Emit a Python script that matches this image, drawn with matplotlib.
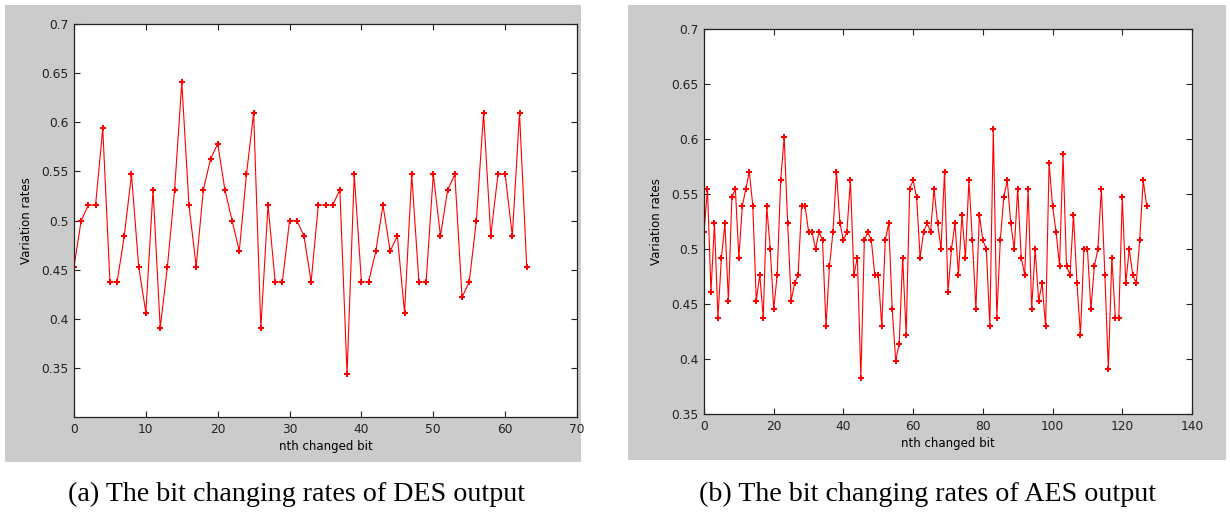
import numpy as np
import matplotlib
matplotlib.use("Agg")
import matplotlib.pyplot as plt
from matplotlib.patches import Rectangle

# number of changed output bits per flipped input bit
des_changed = [29, 32, 33, 33, 38, 28, 28, 31, 35, 29,
               26, 34, 25, 29, 34, 41, 33, 29, 34, 36,
               37, 34, 32, 30, 35, 39, 25, 33, 28, 28,
               32, 32, 31, 28, 33, 33, 33, 34, 22, 35,
               28, 28, 30, 33, 30, 31, 26, 35, 28, 28,
               35, 31, 34, 35, 27, 28, 32, 39, 31, 35,
               35, 31, 39, 29]
aes_changed = [66, 71, 59, 67, 56, 63, 67, 58, 70, 71,
               63, 69, 71, 73, 69, 58, 61, 56, 69, 64,
               57, 61, 72, 77, 67, 58, 60, 61, 69, 69,
               66, 66, 64, 66, 65, 55, 62, 66, 73, 67,
               65, 66, 72, 61, 63, 49, 65, 66, 65, 61,
               61, 55, 65, 67, 57, 51, 53, 63, 54, 71,
               72, 70, 63, 66, 67, 66, 71, 67, 64, 73,
               59, 64, 67, 61, 68, 63, 72, 65, 57, 68,
               65, 64, 55, 78, 56, 65, 70, 72, 67, 64,
               71, 63, 61, 71, 57, 64, 58, 60, 55, 74,
               69, 66, 62, 75, 62, 61, 68, 60, 54, 64,
               64, 57, 62, 64, 71, 61, 50, 63, 56, 56,
               70, 60, 64, 61, 60, 65, 72, 69]
des_bits = 64
aes_bits = 128

captions = ["(a) The bit changing rates of DES output",
            "(b) The bit changing rates of AES output"]
xlabel = "nth changed bit"
ylabel = "Variation rates"

W, H = 1230, 516
fig = plt.figure(figsize=(W / 100, H / 100), dpi=100)
fig.patch.set_facecolor("white")

def px_rect(x0, y0, x1, y1):
    # pixel box (top-left origin) -> figure fraction [l, b, w, h]
    return [x0 / W, 1 - y1 / H, (x1 - x0) / W, (y1 - y0) / H]

grey = "#cbcbcb"
for (x0, y0, x1, y1) in [(5, 5, 581, 462), (628, 5, 1226, 460)]:
    l, b, w, h = px_rect(x0, y0, x1, y1)
    fig.patches.append(Rectangle((l, b), w, h, transform=fig.transFigure,
                                 facecolor=grey, edgecolor="none", zorder=-10))

def panel(rect, values, nbits, xlim, xticks, ylim, yticks):
    ax = fig.add_axes(px_rect(*rect))
    ax.set_zorder(5)
    y = np.array(values) / nbits
    ax.plot(np.arange(len(y)), y, color="red", lw=0.8, marker="P",
            markersize=4, markeredgewidth=0)
    ax.set_xlim(*xlim)
    ax.set_ylim(*ylim)
    ax.set_xticks(xticks)
    ax.set_yticks(yticks)
    ax.set_yticklabels([("%g" % t) for t in yticks])
    ax.tick_params(direction="in", length=4, width=0.8, top=True, right=True,
                   labelsize=8.8, colors="#222222", pad=4)
    for s in ax.spines.values():
        s.set_linewidth(0.9)
        s.set_color("#222222")
    ax.set_xlabel(xlabel, fontsize=8.5, labelpad=3)
    ax.set_ylabel(ylabel, fontsize=8.5, labelpad=6)
    return ax

panel((74, 24, 577, 417), des_changed, des_bits, (0, 70), range(0, 71, 10),
      (0.3, 0.7), [0.35, 0.4, 0.45, 0.5, 0.55, 0.6, 0.65, 0.7])
panel((704, 29, 1192, 414), aes_changed, aes_bits, (0, 140), range(0, 141, 20),
      (0.35, 0.7), [0.35, 0.4, 0.45, 0.5, 0.55, 0.6, 0.65, 0.7])

for cx, txt in zip([297, 928], captions):
    fig.text(cx / W, 1 - 494 / H, txt, ha="center", va="center",
             fontsize=20.2, family="Liberation Serif")

fig.savefig("out.png", dpi=100)
